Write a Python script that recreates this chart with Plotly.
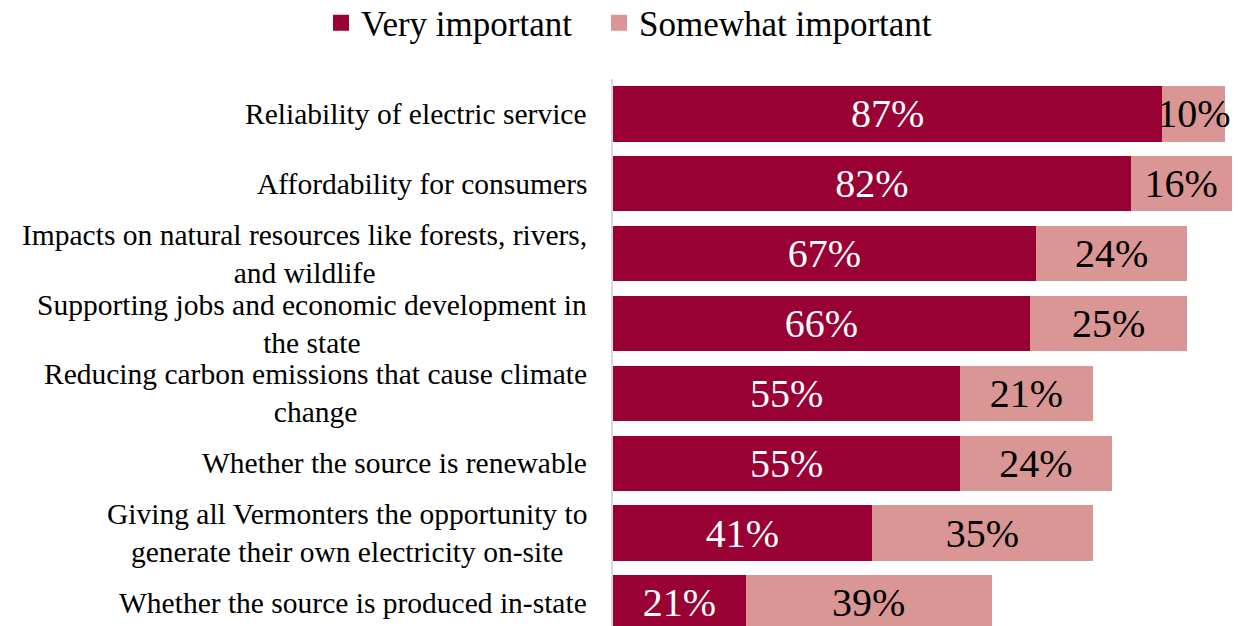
import plotly.graph_objects as go

# Survey: importance of factors in electricity decisions
categories = [
    "Reliability of electric service",
    "Affordability for consumers",
    "Impacts on natural resources like forests, rivers,<br>and wildlife",
    "Supporting jobs and economic development in<br>the state",
    "Reducing carbon emissions that cause climate<br>change",
    "Whether the source is renewable",
    "Giving all Vermonters the opportunity to<br>generate their own electricity on-site",
    "Whether the source is produced in-state",
]
very_important = [87, 82, 67, 66, 55, 55, 41, 21]
somewhat_important = [10, 16, 24, 25, 21, 24, 35, 39]
series_names = ["Very important", "Somewhat important"]

DARK = "#990033"
LIGHT = "#D99694"
FONT = "Liberation Serif"

fig = go.Figure()
for name, vals, color, txt in [
    (series_names[0], very_important, DARK, "white"),
    (series_names[1], somewhat_important, LIGHT, "black"),
]:
    fig.add_trace(go.Bar(
        y=categories, x=vals, orientation="h", name=name, showlegend=False,
        marker=dict(color=color, line=dict(width=0)),
        text=[f"{v}%" for v in vals], textposition="inside",
        insidetextanchor="middle", textangle=0, constraintext="none",
        textfont=dict(family=FONT, size=40, color=txt),
    ))

# Legend entries with larger square swatches, one legend box per series
for name, color, leg in zip(series_names, [DARK, LIGHT], ["legend", "legend2"]):
    fig.add_trace(go.Scatter(
        x=[None], y=[None], mode="markers", name=name, legend=leg,
        marker=dict(symbol="square", size=16, color=color),
    ))

# Category labels drawn as centered multi-line annotations to the left of the axis
for cat in categories:
    fig.add_annotation(
        x=0, xref="paper", y=cat, yref="y", text=cat, showarrow=False,
        xanchor="right", xshift=-24, align="center",
        font=dict(family=FONT, size=29.5, color="black"),
    )

legend_style = dict(
    orientation="h", xref="container", yref="container",
    xanchor="left", y=1 - 23 / 626, yanchor="middle",
    font=dict(family=FONT, size=35, color="black"),
    itemsizing="trace",
)

fig.update_layout(
    width=1238, height=626,
    margin=dict(l=613, r=0, t=79, b=0),
    barmode="stack", bargap=0.21,
    plot_bgcolor="white", paper_bgcolor="white",
    font=dict(family=FONT, color="black"),
    showlegend=True,
    legend=dict(x=321 / 1238, **legend_style),
    legend2=dict(x=599 / 1238, **legend_style),
    xaxis=dict(range=[0, 99], visible=False, fixedrange=True),
    yaxis=dict(
        categoryorder="array", categoryarray=categories,
        range=[7.33, -0.5], showticklabels=False, ticks="",
        showline=True, linecolor="#d9d9d9", linewidth=2,
        showgrid=False, zeroline=False,
    ),
)

fig.write_html("out.html")
